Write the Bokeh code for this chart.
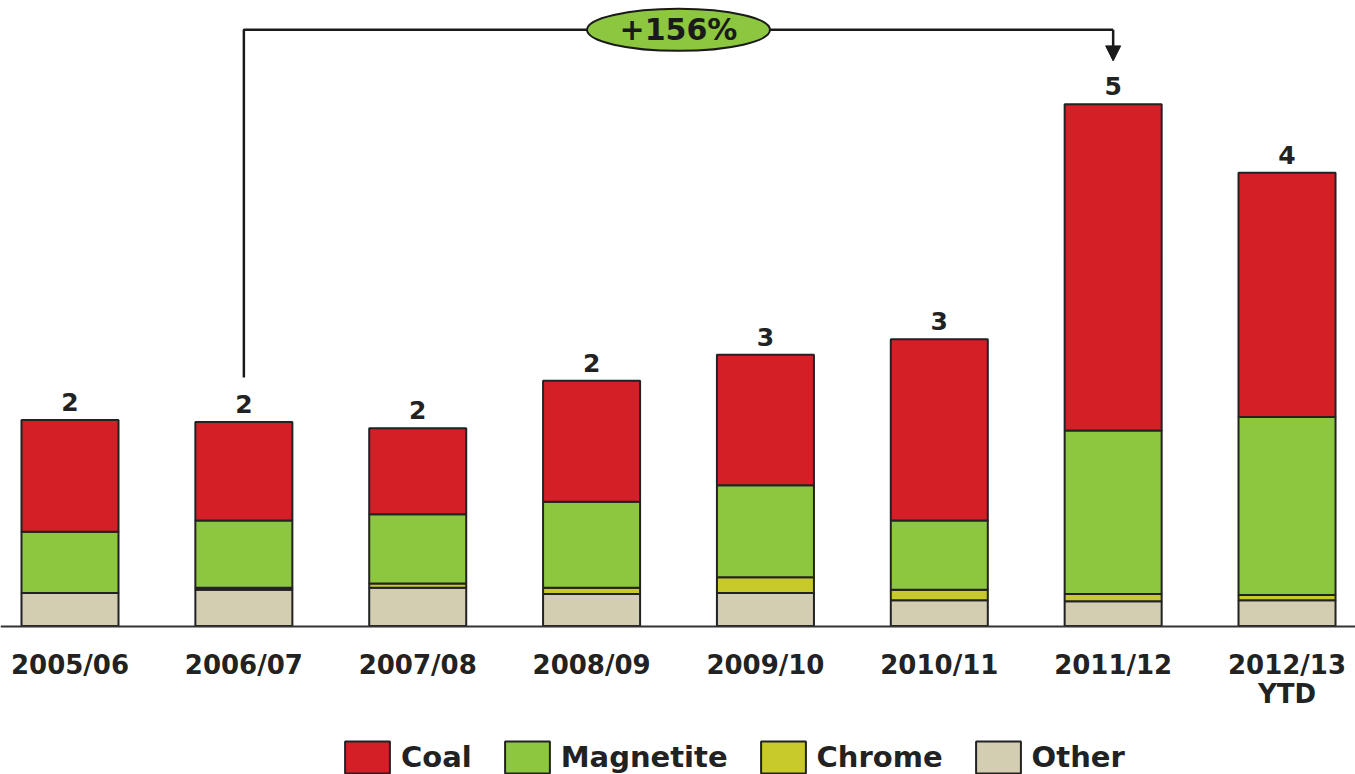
from bokeh.plotting import figure
from bokeh.models import (ColumnDataSource, Range1d, Legend, LegendItem, Arrow, NormalHead,
                          FixedTicker)
from bokeh.core.properties import value
from bokeh.embed import file_html
from bokeh.resources import INLINE

# ---- data ----
categories = ["2005/06", "2006/07", "2007/08", "2008/09", "2009/10", "2010/11", "2011/12", "2012/13\nYTD"]
other = [0.32, 0.35, 0.37, 0.31, 0.32, 0.25, 0.24, 0.25]
chrome = [0.00, 0.02, 0.04, 0.06, 0.15, 0.10, 0.07, 0.05]
magnetite = [0.59, 0.65, 0.67, 0.83, 0.89, 0.67, 1.58, 1.72]
coal = [1.08, 0.95, 0.83, 1.17, 1.26, 1.75, 3.15, 2.36]
series_names = ["Coal", "Magnetite", "Chrome", "Other"]
growth_label = "+156%"
growth_from, growth_to = 1, 6

# ---- styles ----
COLORS = {"other": "#D3CDB2", "chrome": "#C8C92B", "magnetite": "#8DC63F", "coal": "#D41F26"}
INK = "#222222"
FONT = value("DejaVu Sans")

xs = list(range(len(categories)))
totals = [o + c + m + k for o, c, m, k in zip(other, chrome, magnetite, coal)]
labels = [str(int(round(t))) for t in totals]

src = ColumnDataSource(dict(x=xs, other=other, chrome=chrome, magnetite=magnetite, coal=coal,
                            total=totals, label=labels))

PX_PER_UNIT = 103.5
W, H = 1355, 774
BASE = 625.5
STEP = 173.86
X0 = 69.5
x_start = -X0 / STEP
x_end = x_start + W / STEP
y_end = BASE / PX_PER_UNIT
y_start = -(H - BASE) / PX_PER_UNIT

p = figure(width=W, height=H, x_range=Range1d(x_start, x_end), y_range=Range1d(y_start, y_end),
           output_backend="svg", toolbar_location=None,
           min_border_left=0, min_border_right=0, min_border_top=0, min_border_bottom=0)
p.outline_line_color = None
p.xgrid.visible = False
p.ygrid.visible = False
p.yaxis.visible = False
p.background_fill_color = "white"
p.border_fill_color = "white"

stack_keys = ["other", "chrome", "magnetite", "coal"]
rs = p.vbar_stack(stack_keys, x="x", width=0.558, source=src,
                  fill_color=[COLORS[k] for k in stack_keys], line_color=INK, line_width=2)
r_other, r_chrome, r_mag, r_coal = rs

# axis at y = 0
xa = p.xaxis[0]
xa.fixed_location = 0
xa.ticker = FixedTicker(ticks=xs)
xa.major_label_overrides = {i: c for i, c in enumerate(categories)}
xa.axis_line_color = "#333333"
xa.axis_line_width = 2
xa.major_tick_line_color = None
xa.minor_tick_line_color = None
xa.major_label_standoff = 18
xa.major_label_text_font = "DejaVu Sans"
xa.major_label_text_font_style = "bold"
xa.major_label_text_font_size = "26px"
xa.major_label_text_color = INK
xa.major_label_text_line_height = 0.95

# value labels
p.text(x="x", y="total", text="label", source=src, text_align="center", text_baseline="alphabetic",
       y_offset=-18, text_font=FONT, text_font_style="bold", text_font_size="25px", text_color=INK)

# growth annotation
level = max(totals) + 0.72
y_from = totals[growth_from] + 0.43
y_to = totals[growth_to] + 0.42
p.line([growth_from, growth_from, growth_to, growth_to], [y_from, level, level, level],
       line_color="#1a1a1a", line_width=2.5)
p.add_layout(Arrow(end=NormalHead(size=15, fill_color="#1a1a1a", line_color="#1a1a1a"),
                   x_start=growth_to, y_start=level, x_end=growth_to, y_end=y_to,
                   line_color="#1a1a1a", line_width=2.5))
mid = (growth_from + growth_to) / 2
p.ellipse(x=[mid], y=[level], width=183, height=42, width_units="screen", height_units="screen",
          fill_color="#8DC63F", line_color="#1a1a1a", line_width=2)
p.text(x=[mid], y=[level], text=[growth_label], text_align="center", text_baseline="middle",
       text_font=FONT, text_font_style="bold", text_font_size="30px", text_color="#1a1a1a")

# legend
legend = Legend(items=[LegendItem(label=series_names[0], renderers=[r_coal]),
                       LegendItem(label=series_names[1], renderers=[r_mag]),
                       LegendItem(label=series_names[2], renderers=[r_chrome]),
                       LegendItem(label=series_names[3], renderers=[r_other])],
                orientation="horizontal", location=(339, -3),
                glyph_width=56, glyph_height=40, label_standoff=6, spacing=27,
                padding=0, margin=0, border_line_color=None, background_fill_alpha=0,
                label_text_font="DejaVu Sans", label_text_font_style="bold",
                label_text_font_size="29px", label_text_color=INK)
p.add_layout(legend)

open("out.html", "w").write(file_html(p, INLINE))
